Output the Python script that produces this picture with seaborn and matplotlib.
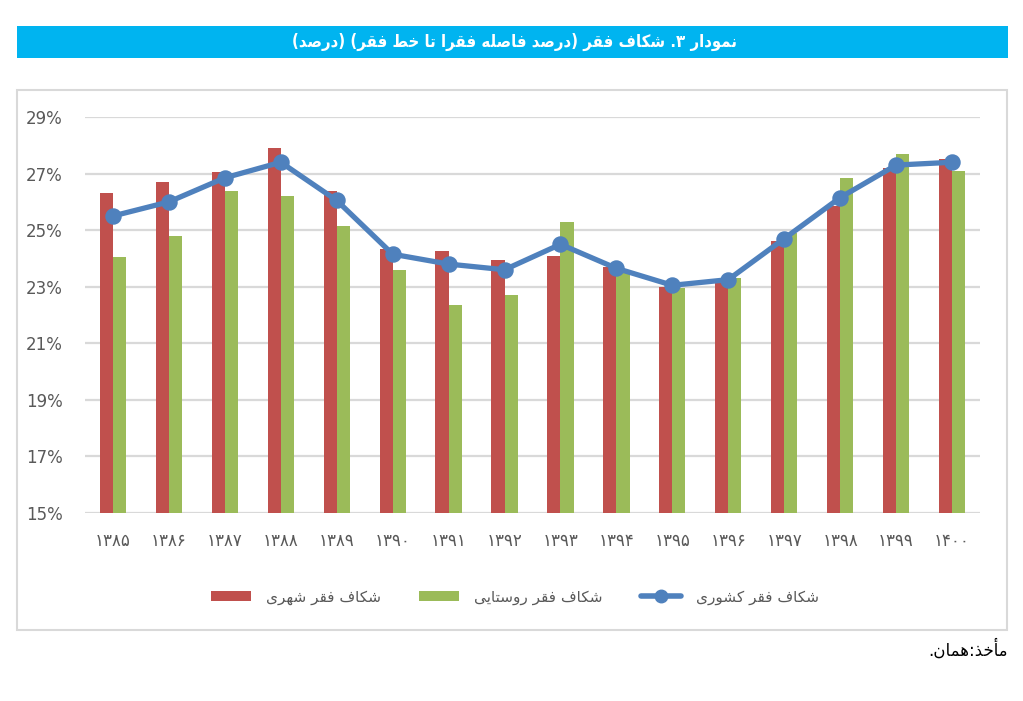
import pandas as pd
import matplotlib
matplotlib.use('Agg')
import matplotlib.pyplot as plt
from matplotlib.patches import Rectangle, Patch
from matplotlib.lines import Line2D
import seaborn as sns

# data (percent)
years = ['۱۳۸۵', '۱۳۸۶', '۱۳۸۷', '۱۳۸۸', '۱۳۸۹', '۱۳۹۰', '۱۳۹۱', '۱۳۹۲',
         '۱۳۹۳', '۱۳۹۴', '۱۳۹۵', '۱۳۹۶', '۱۳۹۷', '۱۳۹۸', '۱۳۹۹', '۱۴۰۰']
urban = [26.3, 26.7, 27.05, 27.9, 26.4, 24.35, 24.25, 23.95,
         24.1, 23.7, 23.0, 23.2, 24.6, 25.85, 27.2, 27.5]
rural = [24.05, 24.8, 26.4, 26.2, 25.15, 23.6, 22.35, 22.7,
         25.3, 23.6, 22.95, 23.3, 24.9, 26.85, 27.7, 27.1]
national = [25.5, 26.0, 26.85, 27.4, 26.05, 24.15, 23.8, 23.6,
            24.5, 23.65, 23.05, 23.25, 24.7, 26.15, 27.3, 27.4]

title = 'نمودار ۳. شکاف فقر (درصد فاصله فقرا تا خط فقر) (درصد)'
lbl_urban = 'شکاف فقر شهری'
lbl_rural = 'شکاف فقر روستایی'
lbl_nat = 'شکاف فقر کشوری'
source = 'مأخذ:همان.'

RED = '#C0504D'
GREEN = '#9BBB59'
BLUE = '#4F81BD'
GREY = '#595959'

# matplotlib has no arabic shaping, so map letters to presentation forms
# (isolated, final, initial, medial); None initial = joins only to the right
FORMS = {
    'ا': ('\uFE8D', '\uFE8E', None, None),
    'أ': ('\uFE83', '\uFE84', None, None),
    'د': ('\uFEA9', '\uFEAA', None, None),
    'ذ': ('\uFEAB', '\uFEAC', None, None),
    'ر': ('\uFEAD', '\uFEAE', None, None),
    'و': ('\uFEED', '\uFEEE', None, None),
    'ت': ('\uFE95', '\uFE96', '\uFE97', '\uFE98'),
    'خ': ('\uFEA5', '\uFEA6', '\uFEA7', '\uFEA8'),
    'س': ('\uFEB1', '\uFEB2', '\uFEB3', '\uFEB4'),
    'ش': ('\uFEB5', '\uFEB6', '\uFEB7', '\uFEB8'),
    'ص': ('\uFEB9', '\uFEBA', '\uFEBB', '\uFEBC'),
    'ط': ('\uFEC1', '\uFEC2', '\uFEC3', '\uFEC4'),
    'ف': ('\uFED1', '\uFED2', '\uFED3', '\uFED4'),
    'ق': ('\uFED5', '\uFED6', '\uFED7', '\uFED8'),
    'ل': ('\uFEDD', '\uFEDE', '\uFEDF', '\uFEE0'),
    'م': ('\uFEE1', '\uFEE2', '\uFEE3', '\uFEE4'),
    'ن': ('\uFEE5', '\uFEE6', '\uFEE7', '\uFEE8'),
    'ه': ('\uFEE9', '\uFEEA', '\uFEEB', '\uFEEC'),
    'ک': ('\uFB8E', '\uFB8F', '\uFB90', '\uFB91'),
    'ی': ('\uFBFC', '\uFBFD', '\uFBFE', '\uFBFF'),
}


def fa(text):
    out = []
    for i, c in enumerate(text):
        if c not in FORMS:
            out.append(c)
            continue
        iso, fin, ini, med = FORMS[c]
        prev = text[i - 1] if i > 0 else ''
        nxt = text[i + 1] if i + 1 < len(text) else ''
        jp = prev in FORMS and FORMS[prev][2] is not None
        jn = ini is not None and nxt in FORMS
        if jp and jn:
            out.append(med)
        elif jp:
            out.append(fin)
        elif jn:
            out.append(ini)
        else:
            out.append(iso)
    vis = ''.join(out)[::-1]
    return vis.translate(str.maketrans('()', ')('))


df = pd.DataFrame({
    'year': years * 2,
    'value': urban + rural,
    'kind': ['urban'] * len(years) + ['rural'] * len(years),
})

sns.set_style('white')
plt.rcParams['font.family'] = ['DejaVu Sans']

fig = plt.figure(figsize=(10.23, 7.01), dpi=100)
ax = fig.add_axes([85 / 1023, 1 - 513 / 701, 895 / 1023, 396 / 701])

sns.barplot(data=df, x='year', y='value', hue='kind', order=years,
            hue_order=['urban', 'rural'], palette=[RED, GREEN],
            width=0.47, gap=0, saturation=1, legend=False, ax=ax,
            linewidth=0, edgecolor='none', zorder=2)
sns.pointplot(x=years, y=national, order=years, color=BLUE, markers='o',
              markersize=9, linewidth=3.8, errorbar=None, ax=ax, zorder=3)

ax.set_ylim(15, 29)
ax.set_xlim(-0.5, len(years) - 0.5)
ax.set_yticks(range(15, 30, 2))
ax.set_yticklabels([f'{v}%' for v in range(15, 30, 2)])
ax.grid(axis='y', color='#D9D9D9', linewidth=1.6, zorder=0)
ax.set_axisbelow(True)
for s in ax.spines.values():
    s.set_visible(False)
ax.tick_params(axis='y', length=0, pad=16, labelsize=12, labelcolor=GREY)
ax.tick_params(axis='x', length=0, pad=14, labelsize=12, labelcolor=GREY)
ax.set_xlabel('')
ax.set_ylabel('')

# chart frame and title banner
fig.patches.append(Rectangle((17 / 1023, 1 - 630 / 701), 990 / 1023, 540 / 701,
                             transform=fig.transFigure, fill=False,
                             edgecolor='#D9D9D9', linewidth=1.5))
fig.patches.append(Rectangle((17 / 1023, 1 - 58 / 701), 991 / 1023, 32 / 701,
                             transform=fig.transFigure, facecolor='#00B4F0',
                             edgecolor='none'))
fig.text(514 / 1023, 1 - 42 / 701, fa(title), color='white', fontsize=12,
         fontweight='bold', fontstretch='condensed', ha='center', va='center')

handles = [
    Patch(facecolor=RED, edgecolor='none'),
    Patch(facecolor=GREEN, edgecolor='none'),
    Line2D([], [], color=BLUE, linewidth=4, marker='o', markersize=9),
]
fig.legend(handles, [fa(lbl_urban), fa(lbl_rural), fa(lbl_nat)],
           loc='center', bbox_to_anchor=(515 / 1023, 1 - 597 / 701), ncol=3,
           frameon=False, fontsize=11, labelcolor=GREY, handlelength=2.6,
           handletextpad=1.0, columnspacing=2.5)

fig.text(1008 / 1023, 1 - 649 / 701, fa(source), color='black', fontsize=12,
         ha='right', va='center')

fig.savefig('out.png', dpi=100)
